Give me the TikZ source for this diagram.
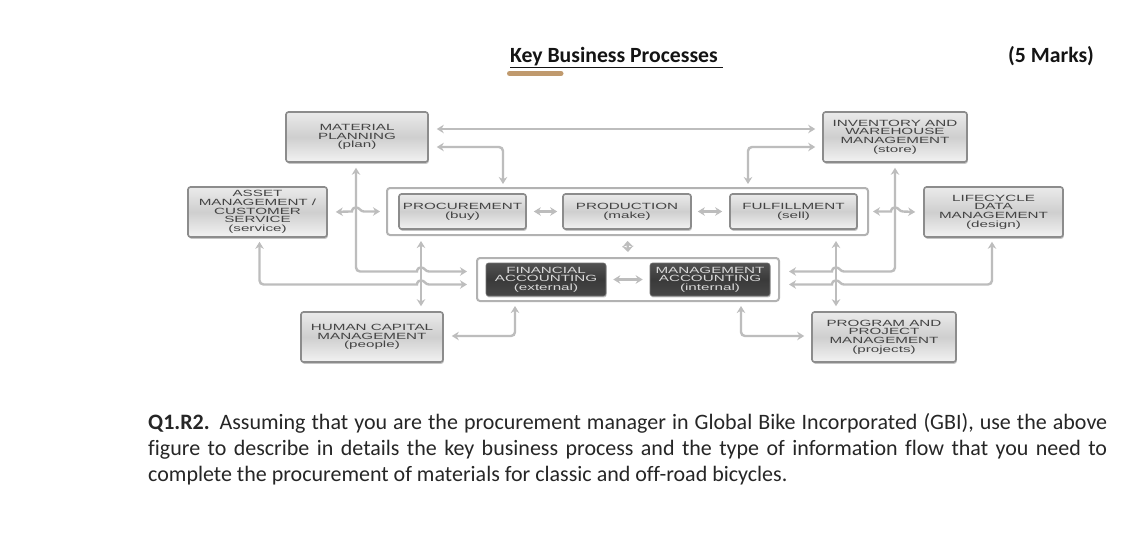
\documentclass[tikz,border=0pt]{standalone}
\usepackage{fontspec}
\usetikzlibrary{arrows.meta,calc,shadows}
\setmainfont[Ligatures=NoCommon]{Carlito}
\newfontfamily\boxfont[FakeStretch=1.69]{Liberation Sans}
\definecolor{conn}{HTML}{BDBDBD}
\definecolor{boxtext}{HTML}{444444}
\definecolor{darkbox}{HTML}{3A3A3A}
\definecolor{barbrown}{HTML}{C09A6E}
\newcommand\hopat[2]{-- (#1-8,#2) [sharp corners] .. controls (#1-4,#2) and (#1-4,#2-4) .. (#1,#2-4) .. controls (#1+4,#2-4) and (#1+4,#2) .. (#1+8,#2) [rounded corners=4pt]}
\tikzset{
  boxbase/.style={rounded corners=2.5pt,inner sep=0pt,align=center,
    font=\boxfont\fontsize{9}{8.7}\selectfont},
  lightbox/.style={boxbase,draw=black!45,line width=1.6pt,text=boxtext,
    top color=black!8,bottom color=black!5,middle color=black!19,
    drop shadow={shadow xshift=0.8pt,shadow yshift=-1.8pt,fill=black!45,opacity=.5}},
  acctbox/.style={boxbase,draw=black!55,line width=.6pt,top color=black!68,bottom color=black!72,middle color=darkbox,text=black!15,
    drop shadow={shadow xshift=0.6pt,shadow yshift=-1.4pt,fill=black!45,opacity=.5}},
  groupbox/.style={draw=black!30,line width=2pt,fill=white,rounded corners=3pt,inner sep=0pt},
  link/.style={draw=conn,line width=2.4pt,rounded corners=4pt,
    {Stealth[length=7pt,width=8.5pt]}-{Stealth[length=7pt,width=8.5pt]}},
  heading/.style={font=\bfseries\fontsize{21.7}{26}\selectfont,text=black!92,inner sep=0pt},
  question/.style={font=\fontsize{22}{26}\selectfont,text=black!85,inner sep=0pt,
    text width=959pt,align=justify},
}
\begin{document}
\begin{tikzpicture}[x=1pt,y=-1pt]
\useasboundingbox (0,0) rectangle (1143,541);
\fill[white] (0,0) rectangle (1143,541);
% headings
\node[heading,anchor=base west] (title) at (510,62) {\underline{Key Business Processes\ }};
\node[heading,anchor=base west] (marks) at (1008,62) {(5 Marks)};
\coordinate (barl) at (509.5,73.5);
\coordinate (barr) at (561,73.5);
\draw[barbrown,line width=5pt,line cap=round] (barl) -- (barr);
% groups
\node[groupbox,minimum width=481pt,minimum height=47pt] (ops) at (627.5,211.5) {};
\node[groupbox,minimum width=302pt,minimum height=43pt] (acct) at (628,279.5) {};
% boxes
\node[lightbox,minimum width=142pt,minimum height=50pt] (mat) at (357,137) {MATERIAL\\PLANNING\\(plan)};
\node[lightbox,minimum width=144pt,minimum height=50pt] (inv) at (895,137) {INVENTORY AND\\WAREHOUSE\\MANAGEMENT\\(store)};
\node[lightbox,minimum width=139pt,minimum height=50pt] (asset) at (257.5,212) {ASSET\\MANAGEMENT /\\CUSTOMER\\SERVICE\\(service)};
\node[lightbox,minimum width=139pt,minimum height=50pt] (life) at (993.5,212) {LIFECYCLE\\DATA\\MANAGEMENT\\(design)};
\node[lightbox,minimum width=127pt,minimum height=35pt] (proc) at (462.5,211.5) {PROCUREMENT\\(buy)};
\node[lightbox,minimum width=128pt,minimum height=35pt] (prod) at (627,211.5) {PRODUCTION\\(make)};
\node[lightbox,minimum width=127pt,minimum height=35pt] (fulf) at (793.5,211.5) {FULFILLMENT\\(sell)};
\node[acctbox,minimum width=120pt,minimum height=33pt] (fin) at (546,279.5) {FINANCIAL\\ACCOUNTING\\(external)};
\node[acctbox,minimum width=120pt,minimum height=33pt] (mgt) at (710,279.5) {MANAGEMENT\\ACCOUNTING\\(internal)};
\node[lightbox,minimum width=142pt,minimum height=50pt] (hcm) at (372,337) {HUMAN CAPITAL\\MANAGEMENT\\(people)};
\node[lightbox,minimum width=144pt,minimum height=50pt] (prog) at (884,337) {PROGRAM AND\\PROJECT\\MANAGEMENT\\(projects)};
% connectors between neighbours
\draw[link] ($(mat.east)+(8,-8)$) -- ($(inv.west)+(-7,-8)$);
\draw[link] ($(mat.east)+(8,10)$) -- (503,147) -- (503,184);
\draw[link] ($(inv.west)+(-7,10)$) -- (748,147) -- (748,184);
\draw[link] (proc.east)++(7,0) -- ($(prod.west)+(-5,0)$);
\draw[link] (prod.east)++(6,0) -- ($(fulf.west)+(-7,0)$);
\draw[link] (fin.east)++(7,0) -- ($(mgt.west)+(-7,0)$);
\draw[link,{Stealth[length=6pt,width=11pt]}-{Stealth[length=6pt,width=11pt]}] ($(ops.south)+(0,5)$) -- ($(acct.north)+(0,-5)$);
% vertical trunks
\draw[link] ($(ops.south)+(-206.5,5)$) -- ($(hcm.north)+(49,-5)$);
\draw[link] ($(ops.south)+(208.5,5)$) -- ($(prog.north)+(-48,-5)$);
% hops over the trunks
\draw[link] ($(asset.east)+(8,0)$) \hopat{356}{211.5} -- ($(ops.west)+(-6,0)$);
\draw[link] ($(ops.east)+(4,0)$) \hopat{895}{211.5} -- ($(life.west)+(-8,0)$);
\draw[link] ($(mat.south)+(-1,5)$) -- (356,271.5) \hopat{421}{271.5} -- ($(acct.west)+(-9,-8)$);
\draw[link] ($(asset.south)+(2,4)$) -- (259.5,284.5) \hopat{421}{284.5} -- ($(acct.west)+(-9,5)$);
\draw[link] ($(acct.east)+(9,-8)$) \hopat{836}{271.5} -- (895,271.5) -- ($(inv.south)+(0,5)$);
\draw[link] ($(acct.east)+(9,5)$) \hopat{836}{284.5} -- (992,284.5) -- ($(life.south)+(-1.5,4)$);
% lower corners
\draw[link] ($(hcm.east)+(8,-1)$) -- (515,336) -- (515,306);
\draw[link] ($(prog.west)+(-7,-1)$) -- (741,336) -- (741,306);
% question
\node[question,anchor=north west] (q) at (148,413.5) {\textbf{Q1.R2.} Assuming that you are the procurement manager in Global Bike Incorporated (GBI), use the above\linebreak figure to describe in details the key business process and the type of information flow that you need to\linebreak complete the procurement of materials for classic and off-road bicycles.};
\end{tikzpicture}
\end{document}
